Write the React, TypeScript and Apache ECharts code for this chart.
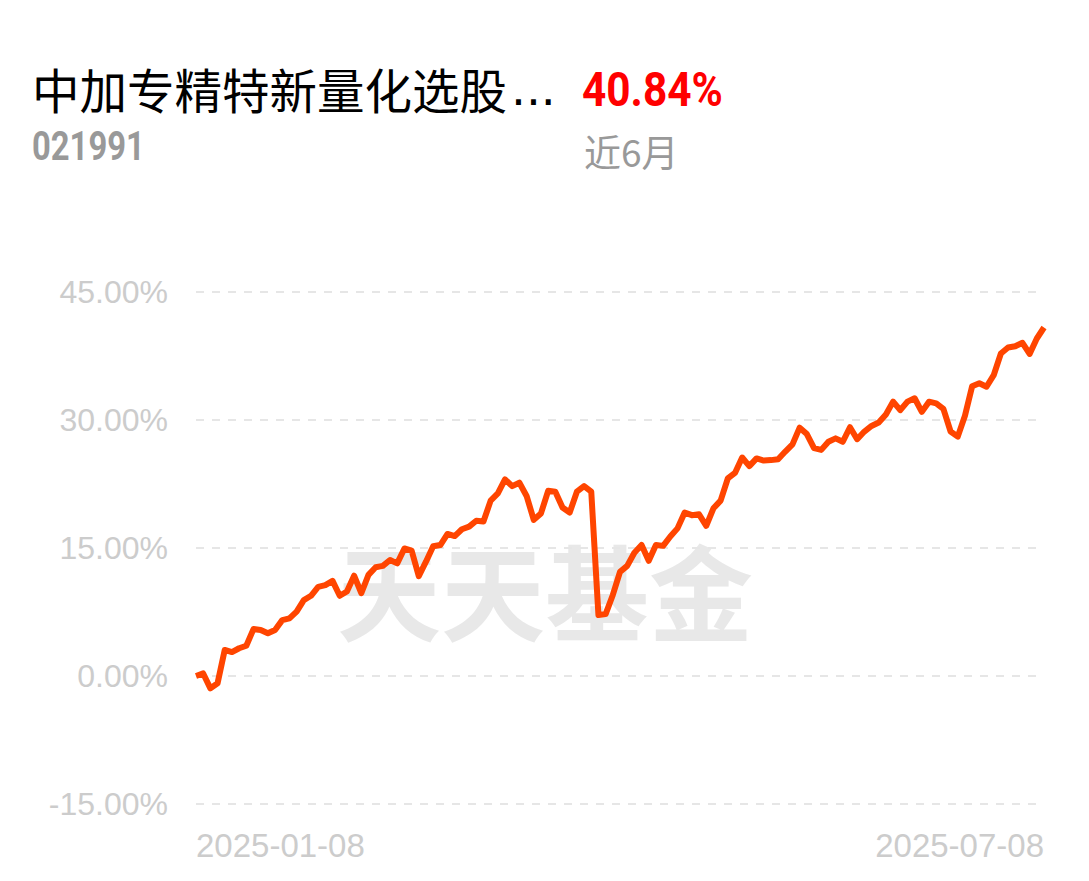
import React, { useEffect, useRef } from "react";
import * as echarts from "echarts";

const fundName = "中加专精特新量化选股";
const nameEllipsis = "...";
const fundCode = "021991";
const periodReturn = "40.84%";
const periodLabel = "近6月";
const watermark = "天天基金";

const dates: string[] = [
  "2025-01-08","2025-01-09","2025-01-10","2025-01-13","2025-01-14","2025-01-15","2025-01-16","2025-01-17","2025-01-20","2025-01-21","2025-01-22","2025-01-23","2025-01-24","2025-01-27",
  "2025-02-05","2025-02-06","2025-02-07","2025-02-10","2025-02-11","2025-02-12","2025-02-13","2025-02-14","2025-02-17","2025-02-18","2025-02-19","2025-02-20","2025-02-21","2025-02-24","2025-02-25","2025-02-26","2025-02-27","2025-02-28",
  "2025-03-03","2025-03-04","2025-03-05","2025-03-06","2025-03-07","2025-03-10","2025-03-11","2025-03-12","2025-03-13","2025-03-14","2025-03-17","2025-03-18","2025-03-19","2025-03-20","2025-03-21","2025-03-24","2025-03-25","2025-03-26","2025-03-27","2025-03-28","2025-03-31",
  "2025-04-01","2025-04-02","2025-04-03","2025-04-07","2025-04-08","2025-04-09","2025-04-10","2025-04-11","2025-04-14","2025-04-15","2025-04-16","2025-04-17","2025-04-18","2025-04-21","2025-04-22","2025-04-23","2025-04-24","2025-04-25","2025-04-28","2025-04-29","2025-04-30",
  "2025-05-06","2025-05-07","2025-05-08","2025-05-09","2025-05-12","2025-05-13","2025-05-14","2025-05-15","2025-05-16","2025-05-19","2025-05-20","2025-05-21","2025-05-22","2025-05-23","2025-05-26","2025-05-27","2025-05-28","2025-05-29","2025-05-30",
  "2025-06-03","2025-06-04","2025-06-05","2025-06-06","2025-06-09","2025-06-10","2025-06-11","2025-06-12","2025-06-13","2025-06-16","2025-06-17","2025-06-18","2025-06-19","2025-06-20","2025-06-23","2025-06-24","2025-06-25","2025-06-26","2025-06-27","2025-06-30",
  "2025-07-01","2025-07-02","2025-07-03","2025-07-04","2025-07-07","2025-07-08",
];

const returns: number[] = [
  0.0, 0.3, -1.45, -0.85, 3.05, 2.8, 3.25, 3.55, 5.5, 5.4, 5.0, 5.4, 6.55, 6.75,
  7.55, 8.9, 9.4, 10.45, 10.65, 11.15, 9.4, 9.9, 11.75, 9.7, 11.85, 12.75, 12.9, 13.6, 13.2, 14.95, 14.7, 11.7,
  13.4, 15.2, 15.35, 16.65, 16.4, 17.2, 17.5, 18.2, 18.1, 20.55, 21.4, 23.05, 22.25, 22.65, 21.1, 18.3, 19.05, 21.7, 21.6, 19.75, 19.15,
  21.6, 22.25, 21.6, 7.15, 7.25, 9.5, 12.2, 12.9, 14.45, 15.35, 13.5, 15.35, 15.25, 16.35, 17.3, 19.15, 18.85, 18.95, 17.6, 19.65, 20.55,
  23.15, 23.8, 25.6, 24.6, 25.5, 25.25, 25.3, 25.4, 26.3, 27.15, 29.1, 28.35, 26.7, 26.5, 27.45, 27.85, 27.45, 29.15, 27.75,
  28.65, 29.3, 29.7, 30.65, 32.15, 31.15, 32.15, 32.55, 30.95, 32.15, 31.95, 31.3, 28.65, 28.05, 30.5, 33.95, 34.3, 33.9, 35.25, 37.8,
  38.5, 38.65, 39.05, 37.75, 39.55, 40.84,
];

const yMin = -15;
const yMax = 45;
const yStep = 15;

export default function App() {
  const ref = useRef<HTMLDivElement>(null);
  useEffect(() => {
    if (!ref.current) return;
    const chart = echarts.init(ref.current, null, { renderer: "svg" });
    const last = dates.length - 1;
    chart.setOption({
      animation: false,
      backgroundColor: "#ffffff",
      grid: { left: 196, right: 45, top: 292, bottom: 77 },
      xAxis: {
        type: "category",
        data: dates,
        boundaryGap: false,
        axisLine: { show: false },
        axisTick: { show: false },
        splitLine: { show: false },
        axisLabel: {
          interval: (i: number) => i === 0 || i === last,
          showMinLabel: true,
          showMaxLabel: true,
          alignMinLabel: "left",
          alignMaxLabel: "right",
          margin: 25,
          color: "#cccccc",
          fontSize: 33,
          fontFamily: "'Liberation Sans', Arial, sans-serif",
        },
      },
      yAxis: {
        type: "value",
        min: yMin,
        max: yMax,
        interval: yStep,
        axisLine: { show: false },
        axisTick: { show: false },
        axisLabel: {
          margin: 28,
          color: "#cccccc",
          fontSize: 32,
          fontFamily: "'Liberation Sans', Arial, sans-serif",
          formatter: (v: number) => v.toFixed(2) + "%",
        },
        splitLine: {
          lineStyle: { color: "#e6e6e6", width: 2, type: [8, 8] },
        },
      },
      graphic: [
        {
          type: "text",
          x: 545,
          y: 588,
          z: -1,
          style: {
            text: watermark,
            fill: "#e8e8e8",
            font: "bold 104px 'Noto Sans CJK SC'",
            textAlign: "center",
            textVerticalAlign: "middle",
          },
        },
        {
          type: "text",
          x: 32,
          y: 88,
          style: {
            text: "{a|" + fundName + "}{b|" + nameEllipsis + "}",
            fill: "#000000",
            textAlign: "left",
            textVerticalAlign: "middle",
            rich: {
              a: { fontFamily: "'Noto Sans CJK SC'", fontSize: 47.5, fill: "#000000" },
              b: {
                fontFamily: "'DejaVu Sans'",
                fontSize: 47,
                fill: "#000000",
                padding: [0, 0, 0, 4],
              },
            },
          },
        },
        {
          type: "text",
          x: 582,
          y: 89,
          scaleX: 0.865,
          style: {
            text: periodReturn,
            fill: "#ff0000",
            font: "bold 49px Roboto",
            textAlign: "left",
            textVerticalAlign: "middle",
          },
        },
        {
          type: "text",
          x: 32,
          y: 146,
          scaleX: 0.82,
          style: {
            text: fundCode,
            fill: "#999999",
            font: "bold 40px Roboto",
            textAlign: "left",
            textVerticalAlign: "middle",
          },
        },
        {
          type: "text",
          x: 584,
          y: 151,
          style: {
            text: periodLabel,
            fill: "#999999",
            font: "37px 'Noto Sans CJK SC'",
            textAlign: "left",
            textVerticalAlign: "middle",
          },
        },
      ],
      series: [
        {
          type: "line",
          data: returns,
          symbol: "none",
          smooth: false,
          z: 5,
          lineStyle: { color: "#ff4500", width: 6, join: "round" },
        },
      ],
    });
    return () => chart.dispose();
  }, []);
  return (
    <div
      ref={ref}
      style={{ position: "fixed", left: 0, top: 0, width: 1089, height: 881 }}
    />
  );
}
